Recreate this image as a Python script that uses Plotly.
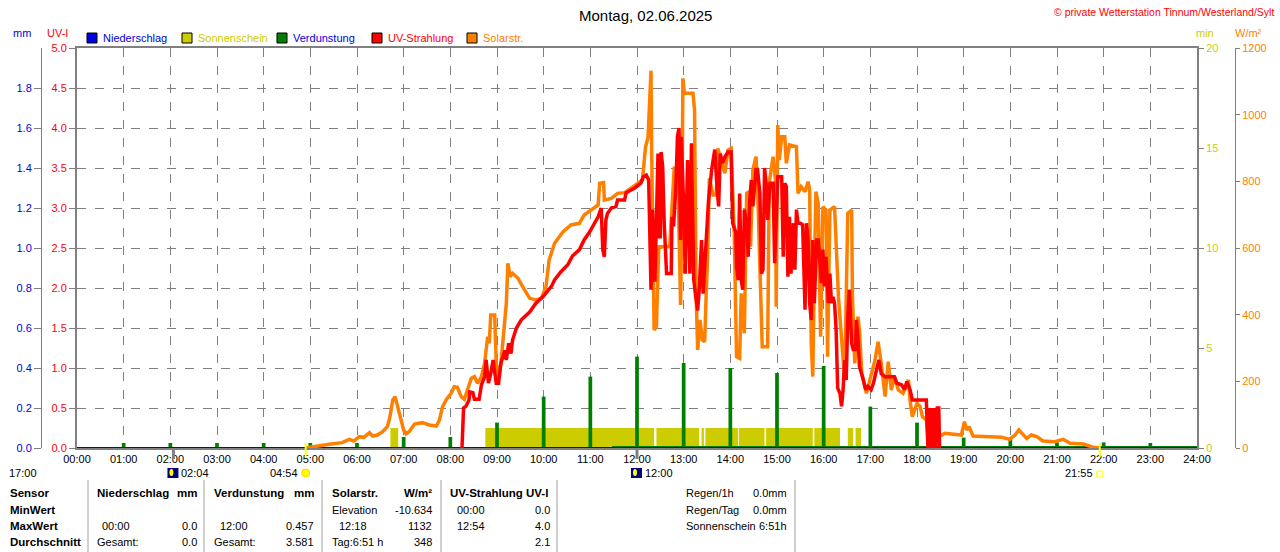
import plotly.graph_objects as go

# ---- data ----
hour_labels = ["%02d:00" % h for h in range(25)]

# solar radiation (W/m2), time in minutes after midnight
solar_t = [294, 309, 324, 341, 350, 356, 363, 369, 376, 380, 386, 393, 399, 402, 406, 409, 412, 415, 420, 423,
           427, 434, 444, 453, 462, 466, 470, 475, 481, 485, 489, 494, 498, 502, 507, 511, 515, 520, 524, 528,
           530, 532, 537, 539, 542, 545, 550, 552, 554, 557, 560, 567, 573, 582, 590, 597, 603, 607, 614, 625,
           635, 646, 652, 661, 670, 672, 677, 678, 687, 695, 704, 715, 721, 727, 731, 734, 735, 738, 739, 740,
           741, 742, 745, 746, 748, 762, 766, 768, 773, 775, 776, 778, 779, 781, 792, 794, 795, 796, 798, 801,
           804, 807, 809, 811, 813, 818, 822, 824, 828, 833, 837, 841, 845, 848, 852, 854, 858, 861, 864, 866,
           869, 873, 875, 880, 881, 888, 890, 893, 895, 898, 899, 901, 903, 906, 910, 912, 916, 925, 927, 931,
           936, 940, 942, 944, 946, 948, 950, 953, 956, 959, 963, 965, 968, 974, 977, 979, 987, 991, 996, 997,
           1000, 1004, 1006, 1009, 1015, 1019, 1026, 1030, 1034, 1039, 1043, 1047, 1051, 1056, 1062, 1069, 1071,
           1074, 1080, 1084, 1087, 1092, 1094, 1112, 1116, 1137, 1141, 1144, 1147, 1152, 1174, 1189, 1199, 1206,
           1211, 1217, 1221, 1227, 1234, 1242, 1257, 1268, 1277, 1294, 1300, 1305, 1315]
solar_w = [0, 6, 11, 16, 26, 21, 34, 32, 46, 36, 39, 49, 64, 89, 144, 154, 124, 94, 54, 42,
           49, 72, 76, 69, 66, 84, 124, 146, 164, 184, 182, 154, 146, 174, 209, 214, 194, 214, 254, 334,
           314, 399, 399, 254, 214, 254, 374, 434, 554, 514, 524, 509, 484, 449, 444, 449, 484, 564, 614, 649,
           669, 674, 699, 714, 729, 794, 796, 744, 749, 764, 766, 784, 794, 804, 904, 929, 974, 1132, 864, 694,
           389, 354, 364, 474, 604, 604, 764, 844, 764, 524, 429, 764, 1109, 1064, 1064, 1014, 744, 464, 294, 384,
           324, 319, 464, 584, 809, 759, 759, 899, 864, 824, 894, 899, 644, 274, 269, 464, 344, 764, 769, 604,
           834, 874, 784, 394, 304, 304, 794, 844, 874, 804, 424, 969, 864, 934, 934, 854, 909, 904, 764, 784,
           769, 799, 774, 314, 214, 514, 769, 734, 334, 724, 714, 274, 714, 724, 584, 454, 204, 704, 714, 454,
           254, 394, 354, 224, 164, 204, 264, 319, 254, 154, 259, 174, 214, 174, 164, 204, 144,
           94, 134, 124, 94, 84, 34, 39, 44, 39, 79, 54, 64, 36, 34, 32, 26, 39,
           54, 39, 29, 39, 34, 21, 19, 26, 14, 12, 7, 3, 0]

# UV index, time in minutes after midnight
uv_t = [495, 497, 500, 504, 505, 509, 511, 517, 520, 524, 526, 529, 532, 535, 539, 542, 545, 550, 552, 555,
        558, 560, 565, 571, 582, 590, 599, 610, 614, 622, 631, 637, 646, 652, 659, 665, 670, 674, 676, 678,
        680, 682, 687, 693, 695, 704, 706, 717, 725, 728, 732, 735, 737, 738, 740, 743, 745, 747, 748, 750,
        751, 753, 755, 757, 758, 764, 765, 767, 770, 772, 774, 776, 777, 780, 782, 785, 788, 790, 793, 795,
        798, 800, 803, 805, 807, 810, 812, 816, 818, 820, 823, 825, 827, 830, 833, 837, 841, 843, 847, 848,
        850, 852, 854, 856, 858, 861, 863, 865, 867, 869, 873, 875, 878, 880, 882, 884, 886, 888, 891, 895,
        897, 899, 901, 906, 908, 910, 912, 914, 916, 918, 921, 923, 925, 927, 930, 933, 936, 938, 940, 942,
        944, 946, 948, 951, 953, 955, 957, 959, 961, 963, 966, 968, 970, 972, 974, 976, 978, 981, 983, 985,
        987, 989, 991, 993, 996, 998, 1001, 1002, 1004, 1006, 1009, 1011, 1014, 1017, 1021, 1024, 1028, 1031,
        1034, 1039, 1051, 1054, 1060, 1064, 1067, 1071, 1074, 1092, 1094, 1096, 1098, 1100, 1102, 1103, 1104,
        1106, 1108, 1109]
uv_i = [0.0, 0.50, 0.52, 0.60, 0.70, 0.69, 0.61, 0.61, 0.79, 0.89, 1.10, 0.81, 0.93, 1.10, 0.81, 0.81, 1.06, 1.22, 1.10, 1.31,
        1.18, 1.35, 1.50, 1.60, 1.70, 1.81, 1.89, 2.02, 2.10, 2.20, 2.29, 2.40, 2.48, 2.60, 2.70, 2.81, 2.89, 3.00, 2.48, 2.39,
        2.85, 2.93, 3.00, 3.02, 3.10, 3.10, 3.19, 3.25, 3.31, 3.39, 3.41, 3.35, 2.35, 1.98, 2.98, 2.08, 2.85, 3.68, 2.64, 2.64,
        3.70, 3.52, 2.81, 2.39, 2.18, 2.18, 2.89, 2.77, 3.27, 3.89, 4.00, 2.60, 3.89, 3.02, 2.18, 3.60, 2.18, 3.81, 2.10, 1.93,
        1.72, 1.98, 2.60, 1.93, 2.27, 2.85, 3.10, 3.48, 3.64, 3.73, 3.23, 3.02, 3.68, 3.56, 3.64, 3.70, 3.70, 2.81, 2.70, 2.27,
        2.10, 3.18, 2.10, 1.98, 2.98, 2.81, 2.39, 3.10, 3.35, 3.02, 3.48, 3.48, 3.18, 2.18, 2.23, 3.50, 3.31, 2.85, 3.31, 3.31,
        2.31, 2.98, 3.39, 3.39, 2.39, 3.31, 3.27, 2.14, 2.89, 2.18, 2.81, 2.23, 2.98, 2.81, 2.81, 2.79, 1.73, 2.81, 2.60, 1.81,
        1.60, 2.60, 1.81, 2.60, 2.60, 2.35, 2.06, 2.48, 2.02, 2.39, 1.81, 2.18, 1.81, 1.89, 1.81, 1.48, 0.75, 0.68, 0.52, 0.73,
        1.10, 0.85, 1.64, 1.98, 1.31, 1.23, 1.23, 1.60, 1.39, 1.02, 0.89, 0.85, 0.73, 0.77, 0.73, 0.81, 0.98, 1.10,
        0.93, 0.89, 0.89, 0.81, 0.79, 0.73, 0.83, 0.73, 0.60, 0.60, 0.0, 0.5, 0.0, 0.5, 0.0, 0.5, 0.0,
        0.5, 0.5, 0.0]

# evaporation per hour (mm)
evap_t = ["01:00", "02:00", "03:00", "04:00", "05:00", "06:00", "07:00", "08:00", "09:00", "10:00", "11:00", "12:00",
          "13:00", "14:00", "15:00", "16:00", "17:00", "18:00", "19:00", "20:00", "21:00", "22:00", "23:00"]
evap_mm = [0.025, 0.025, 0.025, 0.025, 0.025, 0.025, 0.055, 0.055, 0.127, 0.257, 0.357, 0.457,
           0.425, 0.40, 0.375, 0.41, 0.207, 0.127, 0.052, 0.052, 0.028, 0.028, 0.025]
evap_zero_t = ["11:28", "24:00"]      # green zero line at the bottom
evap_zero_mm = [0.0, 0.0]

# precipitation (mm)
rain_t = ["00:00", "24:00"]
rain_mm = [0.0, 0.0]

# sunshine (min per minute), intervals
sun_start = ["06:43", "08:45", "12:25", "13:23", "13:28", "14:11", "14:46", "15:48", "16:31", "16:41"]
sun_end = ["06:53", "12:22", "13:20", "13:26", "14:10", "14:44", "15:46", "16:21", "16:38", "16:48"]
sun_val = [1, 1, 1, 1, 1, 1, 1, 1, 1, 1]

# sun / moon events on the time axis
sunrise, sunset = "04:54", "21:55"
moon_events = ["02:04", "12:00"]
moon_prev = "17:00"

# statistics table
rows = ["Sensor", "MinWert", "MaxWert", "Durchschnitt"]
rain_stats = ["00:00", "0.0", "Gesamt:", "0.0"]
evap_stats = ["12:00", "0.457", "Gesamt:", "3.581"]
solar_stats = ["Elevation", "-10.634", "12:18", "1132", "Tag:6:51 h", "348"]
uv_stats = ["00:00", "0.0", "12:54", "4.0", "", "2.1"]
extra_names = ["Regen/1h", "Regen/Tag", "Sonnenschein"]
extra_vals = ["0.0mm", "0.0mm", "6:51h"]

BLUE = "#0000E0"
YEL = "#CCCC00"
GREEN = "#008000"
RED = "#FF0000"
ORANGE = "#FF8000"
GRAY = "#808080"
FONT = "Liberation Sans, Arial, sans-serif"


def hrs(s):
    h, m = s.split(":")
    return int(h) + int(m) / 60


def px(x):
    return x / 1280


def py(y):
    return 1 - y / 552


fig = go.Figure()

# sunshine bars
s0 = [hrs(a) for a in sun_start]
s1 = [hrs(b) for b in sun_end]
fig.add_trace(go.Bar(x=[(a + b) / 2 for a, b in zip(s0, s1)], y=sun_val,
                     width=[b - a for a, b in zip(s0, s1)],
                     marker=dict(color=YEL, line=dict(width=0)), yaxis="y"))

# evaporation
fig.add_trace(go.Scatter(x=[hrs(t) for t in evap_zero_t], y=evap_zero_mm, mode="lines",
                         line=dict(color=GREEN, width=4), yaxis="y2"))
fig.add_trace(go.Bar(x=[hrs(t) for t in evap_t], y=evap_mm, width=0.08,
                     marker=dict(color=GREEN, line=dict(width=0)), yaxis="y2"))
fig.add_trace(go.Scatter(x=[hrs(t) for t in rain_t], y=rain_mm, mode="lines",
                         line=dict(color=BLUE, width=2), yaxis="y2"))

# solar radiation
fig.add_trace(go.Scatter(x=[m / 60 for m in solar_t], y=solar_w, mode="lines",
                         line=dict(color=ORANGE, width=3.5), yaxis="y3"))
# UV
fig.add_trace(go.Scatter(x=[m / 60 for m in uv_t], y=uv_i, mode="lines",
                         line=dict(color=RED, width=3.5), yaxis="y4"))

tf = dict(family=FONT, size=11)
fig.update_layout(
    width=1280, height=552, margin=dict(l=0, r=0, t=0, b=0),
    paper_bgcolor="white", plot_bgcolor="white", showlegend=False, barmode="overlay",
    font=dict(family=FONT, size=11, color="black"),
    xaxis=dict(domain=[px(77), px(1197)], range=[0, 24], tickvals=list(range(25)), ticktext=hour_labels,
               showgrid=True, gridcolor=GRAY, griddash="dash", gridwidth=1, zeroline=False, automargin=False,
               showline=True, linecolor=GRAY, linewidth=2, mirror=True, ticks="",
               tickfont=dict(tf, color="black")),
    yaxis=dict(domain=[py(448), py(48)], range=[0, 20], side="right", anchor="x", automargin=False,
               tickvals=[0, 5, 10, 15, 20], tickfont=dict(tf, color=YEL),
               ticks="outside", ticklen=5, tickcolor=GRAY, showline=True, linecolor=GRAY, linewidth=2,
               showgrid=False, zeroline=False),
    yaxis2=dict(overlaying="y", range=[0, 2], side="left", anchor="free", position=px(41), automargin=False,
                tickvals=[i / 5 for i in range(10)], ticktext=["%.1f" % (i / 5) for i in range(10)],
                tickfont=dict(tf, color=BLUE), ticks="outside", ticklen=7, tickcolor=GRAY,
                showline=True, linecolor=GRAY, linewidth=1, showgrid=False, zeroline=False),
    yaxis3=dict(overlaying="y", range=[0, 1200], side="right", anchor="free", position=px(1235),
                automargin=False, tickvals=list(range(0, 1201, 200)), tickfont=dict(tf, color=ORANGE),
                ticks="outside", ticklen=4, tickcolor=GRAY, showline=True, linecolor=GRAY, linewidth=1,
                showgrid=False, zeroline=False),
    yaxis4=dict(overlaying="y", range=[0, 5], side="left", anchor="x", automargin=False,
                tickvals=[i / 2 for i in range(11)], ticktext=["%.1f" % (i / 2) for i in range(11)],
                tickfont=dict(tf, color=RED), ticks="outside", ticklen=6, tickcolor=GRAY,
                showline=True, linecolor=GRAY, linewidth=2,
                showgrid=True, gridcolor=GRAY, griddash="dash", gridwidth=1, zeroline=False),
)

ann = []
shapes = []


def text(x, y, s, color="black", anchor="left", size=11, bold=False):
    ann.append(dict(x=px(x), y=py(y), xref="paper", yref="paper", text="<b>%s</b>" % s if bold else s,
                    showarrow=False, xanchor=anchor, yanchor="middle",
                    font=dict(family=FONT, size=size, color=color)))


# title and header
text(645, 15, "Montag, 02.06.2025", anchor="center", size=15)
text(1276, 12, "© private Wetterstation Tinnum/Westerland/Sylt", color=RED, anchor="right", size=10.5)
text(22, 33, "mm", color=BLUE, anchor="center")
text(57, 33, "UV-I", color=RED, anchor="center")
text(1205, 33, "min", color=YEL, anchor="center")
text(1248, 33, "W/m²", color=ORANGE, anchor="center")

# legend
legend = [("Niederschlag", BLUE, BLUE, 87), ("Sonnenschein", YEL, YEL, 182),
          ("Verdunstung", GREEN, BLUE, 277), ("UV-Strahlung", RED, RED, 372),
          ("Solarstr.", ORANGE, ORANGE, 467)]
for name, fill, tcol, x0 in legend:
    shapes.append(dict(type="rect", xref="paper", yref="paper", x0=px(x0), x1=px(x0 + 10),
                       y0=py(43), y1=py(33), fillcolor=fill, line=dict(color="black", width=1)))
    text(x0 + 14, 38, name, color=tcol)

# sun / moon markers on the time axis
for t in (sunrise, sunset):
    shapes.append(dict(type="line", xref="x", yref="paper", x0=hrs(t), x1=hrs(t), y0=py(457), y1=py(443),
                       line=dict(color="#FFFF00", width=2)))
for t in moon_events:
    shapes.append(dict(type="line", xref="x", yref="paper", x0=hrs(t), x1=hrs(t), y0=py(459), y1=py(448),
                       line=dict(color=GRAY, width=3)))
    shapes.append(dict(type="rect", xref="x", yref="paper", xsizemode="pixel", ysizemode="pixel",
                       xanchor=hrs(t), yanchor=py(473), x0=-6, x1=5, y0=-5, y1=5,
                       fillcolor="#000080", line=dict(width=0)))
    shapes.append(dict(type="circle", xref="x", yref="paper", xsizemode="pixel", ysizemode="pixel",
                       xanchor=hrs(t), yanchor=py(473), x0=-4, x1=0, y0=-3, y1=4,
                       fillcolor="#FFFF00", line=dict(width=0)))
    ann.append(dict(x=hrs(t), y=py(473), xref="x", yref="paper", text=t, showarrow=False,
                    xanchor="left", yanchor="middle", xshift=6, font=dict(family=FONT, size=11)))
# sunrise icon + text
shapes.append(dict(type="circle", xref="x", yref="paper", xsizemode="pixel", ysizemode="pixel",
                   xanchor=hrs(sunrise), yanchor=py(473), x0=-4, x1=4, y0=-4, y1=4,
                   fillcolor="#FFFF00", line=dict(color="#FFD000", width=1)))
ann.append(dict(x=hrs(sunrise), y=py(473), xref="x", yref="paper", text=sunrise, showarrow=False,
                xanchor="right", yanchor="middle", xshift=-6, font=dict(family=FONT, size=11)))
# sunset icon + text
shapes.append(dict(type="rect", xref="x", yref="paper", xsizemode="pixel", ysizemode="pixel",
                   xanchor=hrs(sunset), yanchor=py(474), x0=-3, x1=3, y0=-3, y1=3,
                   fillcolor="white", line=dict(color="#FFFF00", width=1)))
ann.append(dict(x=hrs(sunset), y=py(473), xref="x", yref="paper", text=sunset, showarrow=False,
                xanchor="right", yanchor="middle", xshift=-5, font=dict(family=FONT, size=11)))
# previous moon event, far left
text(7, 473, moon_prev)
shapes.append(dict(type="path", xref="paper", yref="paper",
                   path="M %f,%f A 5,5 0 0 1 %f,%f Z" % (px(39), py(477), px(49), py(477)),
                   fillcolor="#FFFF00", line=dict(color="#FFD000", width=1)))

# statistics table
for x in (88, 204, 322, 441, 557, 795):
    shapes.append(dict(type="line", xref="paper", yref="paper", x0=px(x), x1=px(x), y0=py(480), y1=py(552),
                       line=dict(color="#A0A0A0", width=1)))
ry = [493, 510, 526, 542]
BS = 11.5
for name, y in zip(rows, ry):
    text(8, y, name, bold=True, size=BS)
text(95, 493, "Niederschlag", bold=True, size=BS)
text(199, 493, "mm", bold=True, anchor="right", size=BS)
text(212, 493, "Verdunstung", bold=True, size=BS)
text(316, 493, "mm", bold=True, anchor="right", size=BS)
text(330, 493, "Solarstr.", bold=True, size=BS)
text(434, 493, "W/m²", bold=True, anchor="right", size=BS)
text(448, 493, "UV-Strahlung UV-I", bold=True, size=BS)

text(100, 526, rain_stats[0]); text(199, 526, rain_stats[1], anchor="right")
text(95, 542, rain_stats[2]); text(199, 542, rain_stats[3], anchor="right")
text(218, 526, evap_stats[0]); text(316, 526, evap_stats[1], anchor="right")
text(212, 542, evap_stats[2]); text(316, 542, evap_stats[3], anchor="right")
text(330, 510, solar_stats[0]); text(434, 510, solar_stats[1], anchor="right")
text(337, 526, solar_stats[2]); text(434, 526, solar_stats[3], anchor="right")
text(330, 542, solar_stats[4]); text(434, 542, solar_stats[5], anchor="right")
text(455, 510, uv_stats[0]); text(552, 510, uv_stats[1], anchor="right")
text(455, 526, uv_stats[2]); text(552, 526, uv_stats[3], anchor="right")
text(552, 542, uv_stats[5], anchor="right")
for name, val, y in zip(extra_names, extra_vals, ry[:3]):
    text(684, y, name)
    text(789, y, val, anchor="right")

fig.update_layout(annotations=ann, shapes=shapes)
# the page body has a default 8px margin; drop it so the figure sits at the window's corner
fig.write_html("out.html", config={"displayModeBar": False},
               post_script="document.body.style.margin='0px';")
